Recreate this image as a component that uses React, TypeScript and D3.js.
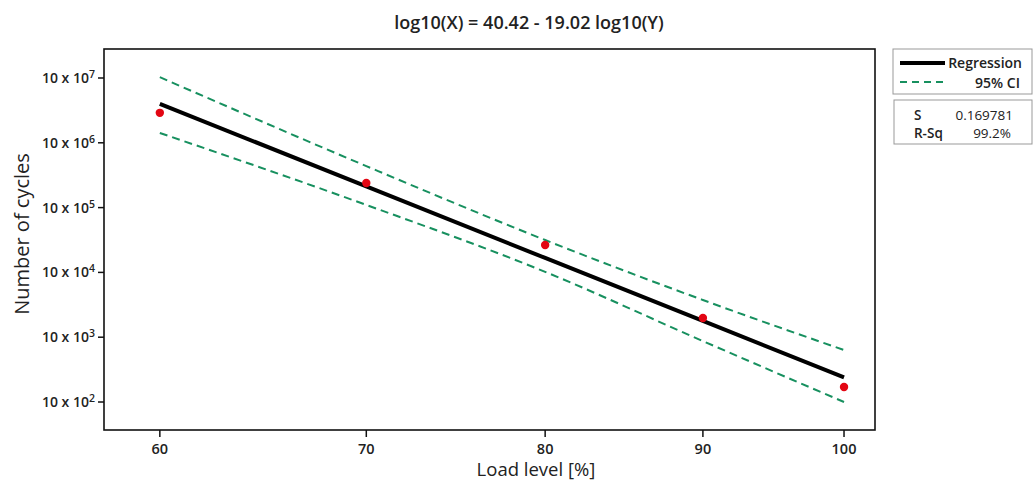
import React from "react";
import * as d3 from "d3";

const loads = [60, 70, 80, 90, 100];
const observedCycles = [2.9e6, 2.4e5, 2.65e4, 1.98e3, 170];
const fitCycles = [4.0e6, 2.12e5, 1.67e4, 1.78e3, 240];
const upperCI = [1.03e7, 4.37e5, 3.16e4, 3.75e3, 634];
const lowerCI = [1.42e6, 1.1e5, 1.02e4, 871, 100];
const xTicks = [60, 70, 80, 90, 100];
const yTickExps = [2, 3, 4, 5, 6, 7];
const titleText = "log10(X) = 40.42 - 19.02 log10(Y)";
const xLabel = "Load level [%]";
const yLabel = "Number of cycles";
const statNames = ["S", "R-Sq"];
const statValues = ["0.169781", "99.2%"];

const W = 1035;
const H = 483;
const L = 104, R = 875, T = 49, B = 430;
const FONT = "'Open Sans', 'Noto Sans', sans-serif";
const GREEN = "#17905f";

export default function App() {
  const x = d3.scaleLog().domain([57.55, 102.34]).range([L, R]);
  const y = d3.scaleLog().domain([Math.pow(10, 1.568), Math.pow(10, 7.4475)]).range([B, T]);

  const pts = (vals: number[]) => loads.map((l, i) => [x(l), y(vals[i])] as [number, number]);
  const straight = d3.line().curve(d3.curveLinear);
  const smooth = d3.line().curve(d3.curveMonotoneX);

  return (
    <div style={{ position: "absolute", left: 0, top: 0 }}>
      <svg width={W} height={H} style={{ display: "block", background: "#fff" }} fontFamily={FONT}>
        <text x={529} y={29} textAnchor="middle" fontSize={18} fontWeight={600} fill="#222">
          {titleText}
        </text>

        {/* CI */}
        <path d={smooth(pts(upperCI)) || ""} fill="none" stroke={GREEN} strokeWidth={2} strokeDasharray="8 5" />
        <path d={smooth(pts(lowerCI)) || ""} fill="none" stroke={GREEN} strokeWidth={2} strokeDasharray="8 5" />
        {/* Regression */}
        <path d={straight(pts(fitCycles)) || ""} fill="none" stroke="#000" strokeWidth={4} />
        {/* points */}
        {loads.map((l, i) => (
          <circle key={l} cx={x(l)} cy={y(observedCycles[i])} r={4.2} fill="#e30613" />
        ))}

        {/* frame */}
        <rect x={L} y={T} width={R - L} height={B - T} fill="none" stroke="#111" strokeWidth={1.6} />

        {/* x ticks */}
        {xTicks.map((t) => (
          <g key={t}>
            <line x1={x(t)} x2={x(t)} y1={B} y2={B + 7} stroke="#111" strokeWidth={1.5} />
            <text x={x(t)} y={454} textAnchor="middle" fontSize={14.5} fontWeight={600} fill="#222">
              {t}
            </text>
          </g>
        ))}
        {/* y ticks */}
        {yTickExps.map((e) => (
          <g key={e}>
            <line x1={L - 6} x2={L} y1={y(Math.pow(10, e))} y2={y(Math.pow(10, e))} stroke="#111" strokeWidth={1.5} />
            <text x={L - 9} y={y(Math.pow(10, e)) + 5} textAnchor="end" fontSize={14} fontWeight={600} fill="#222">
              10 x 10
              <tspan fontSize={10.5} dy={-5}>{e}</tspan>
            </text>
          </g>
        ))}

        <text x={536} y={476} textAnchor="middle" fontSize={18.5} fill="#222">
          {xLabel}
        </text>
        <text transform={`translate(29,234) rotate(-90)`} textAnchor="middle" fontSize={20} fill="#222">
          {yLabel}
        </text>

        {/* legend */}
        <rect x={893} y={49} width={139} height={45} fill="#fff" stroke="#999" strokeWidth={1} />
        <line x1={900} x2={945} y1={63} y2={63} stroke="#000" strokeWidth={4} />
        <text x={1022} y={68} textAnchor="end" fontSize={14} fontWeight={600} fill="#222">Regression</text>
        <line x1={900} x2={945} y1={82} y2={82} stroke={GREEN} strokeWidth={2} strokeDasharray="7 5" />
        <text x={1020} y={88} textAnchor="end" fontSize={14} fontWeight={600} fill="#222">95% CI</text>

        <rect x={894} y={100} width={138} height={44} fill="#fff" stroke="#999" strokeWidth={1} />
        {statNames.map((n, i) => (
          <g key={n}>
            <text x={914} y={120 + i * 18} fontSize={13.5} fontWeight={600} fill="#222">{n}</text>
            <text x={1013 - i * 2} y={120 + i * 18} textAnchor="end" fontSize={13.5} fill="#222">{statValues[i]}</text>
          </g>
        ))}
      </svg>
    </div>
  );
}
